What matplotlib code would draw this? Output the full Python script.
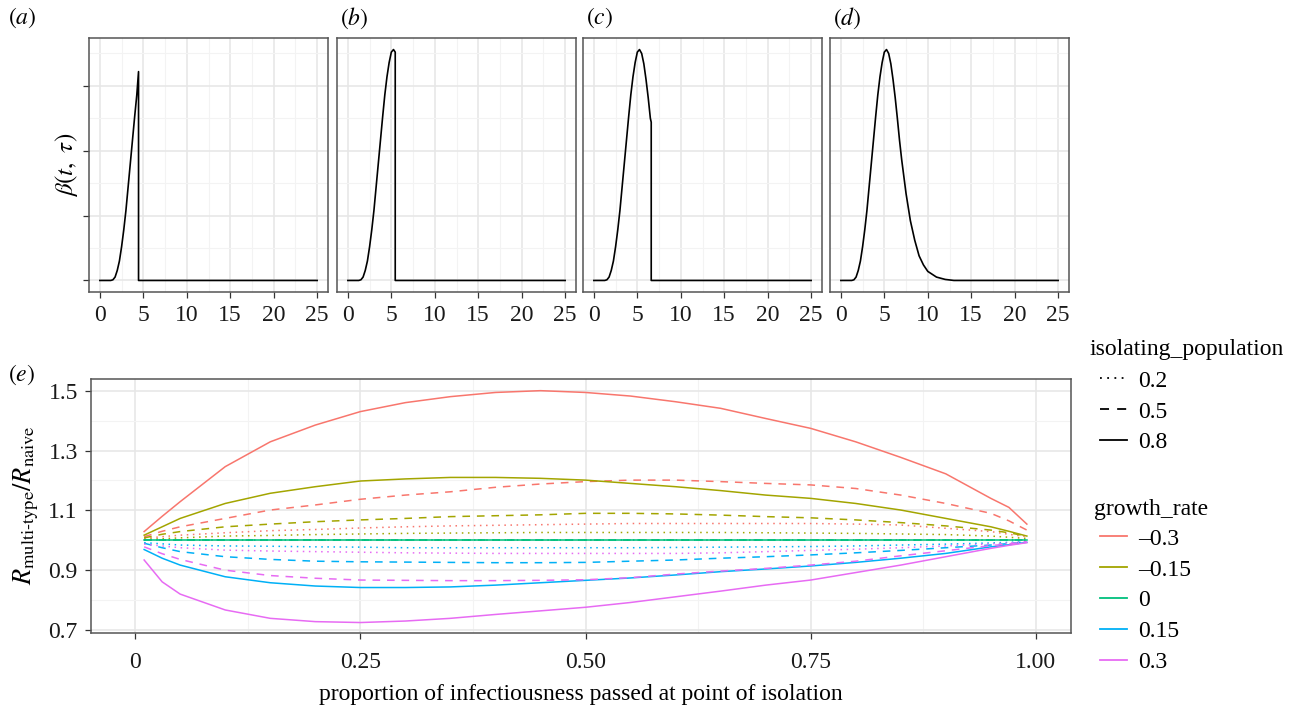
import matplotlib
matplotlib.use("Agg")
import matplotlib.pyplot as plt
from matplotlib.lines import Line2D

plt.rcParams['font.family'] = ['Liberation Serif', 'DejaVu Serif']
plt.rcParams['mathtext.fontset'] = 'stix'

# infectiousness profile beta(t, tau)
tau = [0, 1, 1.25, 1.5, 1.75, 2, 2.25, 2.5, 2.75, 3, 3.25, 3.5, 3.75, 4, 4.25,
       4.5, 4.75, 5, 5.25, 5.5, 5.75, 6, 6.25, 6.5, 6.75, 7, 7.5, 8, 8.5, 9,
       9.5, 10, 11, 12, 13, 25]
beta = [0, 0, 0, 0.0005, 0.0026, 0.0077, 0.015, 0.026, 0.039, 0.054, 0.072,
        0.090, 0.108, 0.126, 0.143, 0.157, 0.168, 0.176, 0.178, 0.175, 0.167,
        0.155, 0.141, 0.125, 0.108, 0.093, 0.067, 0.046, 0.031, 0.019, 0.012,
        0.007, 0.0026, 0.0008, 0, 0]
# point of isolation in panels a-c (d has none) and the height just before the drop
cut_tau = [4.45, 5.45, 6.6, None]
cut_beta = [0.161, 0.176, 0.122, None]
tags = ['a', 'b', 'c', 'd']

# panel (e)
prop = [0.01, 0.03, 0.05, 0.10, 0.15, 0.20, 0.25, 0.30, 0.35, 0.40, 0.45, 0.50,
        0.55, 0.60, 0.65, 0.70, 0.75, 0.80, 0.85, 0.90, 0.95, 0.97, 0.99]
growth_rates = ['–0.3', '–0.15', '0', '0.15', '0.3']
isolating = ['0.2', '0.5', '0.8']

# growth -0.3
gm030_p02 = [1.006, 1.012, 1.017, 1.025, 1.032, 1.036, 1.041, 1.045, 1.048, 1.050, 1.052, 1.054,
             1.056, 1.056, 1.056, 1.056, 1.056, 1.054, 1.051, 1.040, 1.029, 1.020, 1.012]
gm030_p05 = [1.012, 1.030, 1.045, 1.073, 1.101, 1.118, 1.137, 1.151, 1.162, 1.177, 1.188, 1.196,
             1.201, 1.201, 1.196, 1.190, 1.185, 1.173, 1.151, 1.123, 1.090, 1.065, 1.034]
gm030_p08 = [1.029, 1.080, 1.129, 1.246, 1.329, 1.385, 1.430, 1.460, 1.480, 1.494, 1.500, 1.494,
             1.482, 1.463, 1.441, 1.407, 1.374, 1.329, 1.277, 1.222, 1.140, 1.110, 1.054]
# growth -0.15
gm015_p02 = [1.003, 1.005, 1.008, 1.014, 1.016, 1.019, 1.021, 1.023, 1.024, 1.025, 1.026, 1.026,
             1.026, 1.026, 1.026, 1.025, 1.024, 1.023, 1.021, 1.019, 1.014, 1.010, 1.006]
gm015_p05 = [1.008, 1.020, 1.029, 1.045, 1.054, 1.062, 1.068, 1.073, 1.079, 1.082, 1.085, 1.090,
             1.090, 1.088, 1.084, 1.079, 1.075, 1.068, 1.059, 1.048, 1.034, 1.025, 1.014]
gm015_p08 = [1.017, 1.045, 1.073, 1.123, 1.157, 1.179, 1.198, 1.205, 1.210, 1.210, 1.207, 1.201,
             1.190, 1.179, 1.166, 1.151, 1.140, 1.123, 1.101, 1.073, 1.045, 1.030, 1.014]
# growth 0
g000_p02 = [1.0, 1.0, 1.0, 1.0, 1.0, 1.0, 1.0, 1.0, 1.0, 1.0, 1.0, 1.0,
            1.0, 1.0, 1.0, 1.0, 1.0, 1.0, 1.0, 1.0, 1.0, 1.0, 1.0]
g000_p05 = [1.0, 1.0, 1.0, 1.0, 1.0, 1.0, 1.0, 1.0, 1.0, 1.0, 1.0, 1.0,
            1.0, 1.0, 1.0, 1.0, 1.0, 1.0, 1.0, 1.0, 1.0, 1.0, 1.0]
g000_p08 = [1.0, 1.0, 1.0, 1.0, 1.0, 1.0, 1.0, 1.0, 1.0, 1.0, 1.0, 1.0,
            1.0, 1.0, 1.0, 1.0, 1.0, 1.0, 1.0, 1.0, 1.0, 1.0, 1.0]
# growth 0.15
g015_p02 = [0.992, 0.988, 0.984, 0.981, 0.980, 0.978, 0.977, 0.975, 0.975, 0.975, 0.975, 0.975,
            0.975, 0.976, 0.977, 0.978, 0.979, 0.981, 0.984, 0.987, 0.991, 0.993, 0.995]
g015_p05 = [0.990, 0.975, 0.962, 0.945, 0.936, 0.930, 0.928, 0.927, 0.926, 0.925, 0.925, 0.926,
            0.930, 0.934, 0.940, 0.945, 0.951, 0.958, 0.966, 0.975, 0.984, 0.989, 0.995]
g015_p08 = [0.969, 0.940, 0.917, 0.878, 0.858, 0.847, 0.842, 0.842, 0.844, 0.850, 0.858, 0.866,
            0.874, 0.884, 0.895, 0.904, 0.914, 0.926, 0.940, 0.956, 0.978, 0.985, 0.993]
# growth 0.3
g030_p02 = [0.987, 0.981, 0.975, 0.967, 0.964, 0.962, 0.960, 0.958, 0.957, 0.956, 0.956, 0.956,
            0.956, 0.956, 0.958, 0.962, 0.966, 0.970, 0.975, 0.981, 0.988, 0.991, 0.995]
g030_p05 = [0.978, 0.955, 0.936, 0.900, 0.882, 0.873, 0.867, 0.866, 0.865, 0.865, 0.866, 0.868,
            0.875, 0.887, 0.897, 0.906, 0.917, 0.930, 0.948, 0.965, 0.982, 0.988, 0.995]
g030_p08 = [0.934, 0.861, 0.820, 0.767, 0.739, 0.728, 0.725, 0.730, 0.739, 0.752, 0.764, 0.776,
            0.792, 0.811, 0.830, 0.850, 0.867, 0.892, 0.917, 0.945, 0.973, 0.983, 0.992]

ratios = [
    [gm030_p02, gm030_p05, gm030_p08],
    [gm015_p02, gm015_p05, gm015_p08],
    [g000_p02, g000_p05, g000_p08],
    [g015_p02, g015_p05, g015_p08],
    [g030_p02, g030_p05, g030_p08],
]

colors = ['#F8766D', '#A3A500', '#00BF7D', '#00B0F6', '#E76BF3']
styles = [(0, (1, 3)), (0, (5, 4.5)), '-']

W, H = 1299, 706
FS = 17
TICK_C = '#1a1a1a'
EDGE_C = '#555555'


def fig_rect(x0, y0, x1, y1):
    # pixel box -> figure fraction
    return [x0 / W, 1 - y1 / H, (x1 - x0) / W, (y1 - y0) / H]


def theme_bw(ax):
    ax.set_facecolor('white')
    for s in ax.spines.values():
        s.set_color(EDGE_C)
        s.set_linewidth(1.1)
    ax.grid(True, which='major', color='#E6E6E6', linewidth=1.1)
    ax.grid(True, which='minor', color='#F3F3F3', linewidth=0.8)
    ax.set_axisbelow(True)
    ax.tick_params(which='major', length=4.5, width=0.9, color='#333333',
                   labelsize=FS, labelcolor=TICK_C, pad=5)
    ax.tick_params(which='minor', length=0)


fig = plt.figure(figsize=(W / 100, H / 100), dpi=100)

lefts = [89, 337, 583, 830]
tag_x = [8, 340, 586, 833]
for i, x0 in enumerate(lefts):
    ax = fig.add_axes(fig_rect(x0, 38, x0 + 239, 292))
    theme_bw(ax)
    if cut_tau[i] is None:
        xs, ys = list(tau), list(beta)
    else:
        xs = [t for t in tau if t < cut_tau[i]]
        ys = [b for t, b in zip(tau, beta) if t < cut_tau[i]]
        xs += [cut_tau[i], cut_tau[i], 25]
        ys += [cut_beta[i], 0, 0]
    ax.plot(xs, ys, color='black', lw=1.2)
    ax.set_xlim(-1.25, 26.25)
    ax.set_ylim(-0.0089, 0.1869)
    ax.set_xticks([0, 5, 10, 15, 20, 25])
    ax.set_xticks([2.5, 7.5, 12.5, 17.5, 22.5], minor=True)
    ax.set_yticks([0, 0.05, 0.10, 0.15])
    ax.set_yticks([0.025, 0.075, 0.125, 0.175], minor=True)
    ax.set_yticklabels([])
    if i > 0:
        ax.tick_params(axis='y', which='major', length=0)
    fig.text(tag_x[i] / W, 1 - 18 / H, r'$(%s)$' % tags[i], fontsize=FS,
             ha='left', va='center')

fig.text(66 / W, 1 - 165 / H, r'$\beta(t,\ \tau)$', fontsize=FS + 1,
         rotation=90, ha='center', va='center')

# panel (e)
ax = fig.add_axes(fig_rect(91, 379, 1071, 633))
theme_bw(ax)
for gi in range(len(growth_rates)):
    for pi in range(len(isolating)):
        ax.plot(prop, ratios[gi][pi], color=colors[gi], ls=styles[pi], lw=1.1)
ax.set_xlim(-0.049, 1.039)
ax.set_ylim(0.69, 1.539)
ax.set_xticks([0, 0.25, 0.5, 0.75, 1.0])
ax.set_xticklabels(['0', '0.25', '0.50', '0.75', '1.00'])
ax.set_xticks([0.125, 0.375, 0.625, 0.875], minor=True)
ax.set_yticks([0.7, 0.9, 1.1, 1.3, 1.5])
ax.set_yticklabels(['0.7', '0.9', '1.1', '1.3', '1.5'])
ax.set_yticks([0.8, 1.0, 1.2, 1.4], minor=True)
ax.tick_params(axis='x', which='major', pad=9)
ax.set_xlabel('proportion of infectiousness passed at point of isolation',
              fontsize=FS, labelpad=8)

fig.text(8 / W, 1 - 375 / H, r'$(e)$', fontsize=FS, ha='left', va='center')
fig.text(26 / W, 1 - 505 / H,
         r'$R_{\mathrm{multi\text{-}type}}/R_{\mathrm{naive}}$',
         fontsize=FS + 2, rotation=90, ha='center', va='center')

# legends: titles as plain text, keys as figure legends
fig.text(1089 / W, 1 - 349 / H, 'isolating_population', fontsize=FS,
         ha='left', va='center')
h_iso = [Line2D([], [], color='black', ls=s, lw=1.3) for s in styles]
fig.legend(h_iso, isolating, loc='upper left',
           bbox_to_anchor=(1100 / W, 1 - 370 / H), borderaxespad=0,
           frameon=False, fontsize=FS, handlelength=1.15, handletextpad=0.45,
           labelspacing=0.4, borderpad=0)

fig.text(1094 / W, 1 - 509 / H, 'growth_rate', fontsize=FS,
         ha='left', va='center')
h_gr = [Line2D([], [], color=c, ls='-', lw=1.3) for c in colors]
fig.legend(h_gr, growth_rates, loc='upper left',
           bbox_to_anchor=(1100 / W, 1 - 528 / H), borderaxespad=0,
           frameon=False, fontsize=FS, handlelength=1.15, handletextpad=0.45,
           labelspacing=0.4, borderpad=0)

fig.savefig('out.png', dpi=100)
